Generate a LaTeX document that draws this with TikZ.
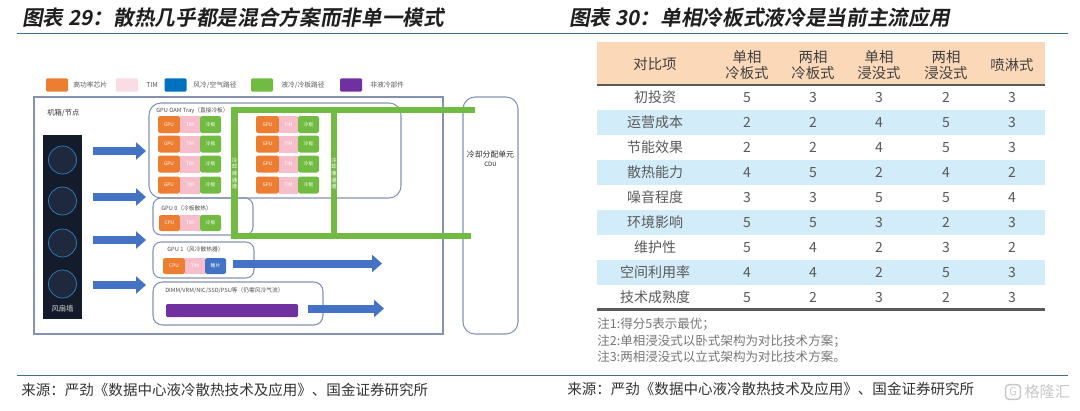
\documentclass[tikz,border=0pt]{standalone}
\usepackage{fontspec}
\setmainfont{Noto Sans CJK SC}
\newfontfamily\titlefont{Noto Sans CJK SC Bold}[FakeSlant=0.18]
\usetikzlibrary{arrows.meta}
\newcommand{\fsz}[1]{\fontsize{#1}{#1}\selectfont}

\definecolor{chiporange}{RGB}{237,125,49}
\definecolor{timpink}{RGB}{245,190,202}
\definecolor{legpink}{RGB}{250,220,228}
\definecolor{airblue}{RGB}{68,114,196}
\definecolor{legblue}{RGB}{0,112,192}
\definecolor{liqgreen}{RGB}{114,187,67}
\definecolor{partpurple}{RGB}{112,48,160}
\definecolor{boxline}{RGB}{132,146,178}
\definecolor{fanwall}{RGB}{20,27,43}
\definecolor{fanfill}{RGB}{31,41,62}
\definecolor{fanring}{RGB}{43,120,178}
\definecolor{ruleteal}{RGB}{62,110,140}
\definecolor{headpeach}{RGB}{251,216,184}
\definecolor{rowblue}{RGB}{211,236,249}
\definecolor{tabrule}{RGB}{89,89,89}
\definecolor{tabtext}{RGB}{89,89,89}
\definecolor{notegray}{RGB}{118,118,118}
\definecolor{markgray}{RGB}{200,200,200}

\begin{document}
\begin{tikzpicture}[x=0.75pt,y=0.75pt,yscale=-1,xscale=1,
  swatch/.style={rounded corners=1pt, minimum width=16.5pt, minimum height=10pt, inner sep=0pt},
  legtext/.style={anchor=west, inner sep=0pt, text=black!65, font=\fsz{5.1pt}},
  chip/.style={rounded corners=1.6pt, minimum height=12.75pt, inner sep=0pt, text=white, font=\fsz{3.6pt}},
  group/.style={draw=boxline, line width=0.8pt, rounded corners=9pt, inner sep=0pt},
  grouptitle/.style={anchor=west, inner sep=0pt, text=black!70, font=\fsz{4.3pt}},
  fan/.style={circle, fill=fanfill, draw=fanring, line width=0.6pt, minimum size=21pt, inner sep=0pt},
  airflow/.style={draw=airblue, line width=6pt, -{Triangle[length=7.5pt,width=12.75pt]}},
  pipe/.style={draw=liqgreen, line width=5pt, line join=miter},
  pipelabel/.style={align=center, inner sep=0pt, text=white, font=\fontsize{4pt}{4.95pt}\selectfont},
  headcell/.style={align=center, inner sep=0pt, text=black!75, font=\fontsize{10.8pt}{12pt}\selectfont},
  cell/.style={inner sep=0pt, text=tabtext, font=\fsz{10.5pt}},
  note/.style={anchor=west, inner sep=0pt, text=notegray, font=\fsz{9.4pt}},
  source/.style={anchor=west, inner sep=0pt, text=black!80, font=\fsz{10.9pt}},
  figtitle/.style={anchor=west, inner sep=0pt, text=black!88, font=\titlefont\fsz{15.5pt}}]
\useasboundingbox (0,0) rectangle (1080,410);

% Titles and rules
\node[figtitle] (titleL) at (22,18) {图表 29：散热几乎都是混合方案而非单一模式};
\node[figtitle] (titleR) at (569,18) {图表 30：单相冷板式液冷是当前主流应用};
\draw[ruleteal, line width=1pt] (17,33.5) -- (1068,33.5);
\draw[ruleteal, line width=1pt] (17,375.5) -- (1068,375.5);

% Legend
\node[swatch, fill=chiporange] (legchip) at (57,85) {};
\node[legtext] (legchiptxt) at (73,85) {高功率芯片};
\node[swatch, fill=legpink] (legtim) at (127,85) {};
\node[legtext] (legtimtxt) at (146,85) {TIM};
\node[swatch, fill=legblue] (legair) at (175.5,85) {};
\node[legtext] (legairtxt) at (193,85) {风冷/空气路径};
\node[swatch, fill=liqgreen] (legliq) at (262,85) {};
\node[legtext] (legliqtxt) at (281,85) {液冷/冷板路径};
\node[swatch, fill=partpurple] (legpart) at (351,85) {};
\node[legtext] (legparttxt) at (370,85) {非液冷部件};

%Shape: Rectangle (chassis) 
\node[draw=boxline, line width=0.9pt, minimum width=306.75pt, minimum height=177.75pt, inner sep=0pt] (chassis) at (238.5,215.5) {};
\node[anchor=west, inner sep=0pt, text=black!80, font=\fsz{5.5pt}] (chassistxt) at (47,113) {机箱/节点};
%Shape: Rectangle (CDU) 
\node[group, minimum width=41.25pt, minimum height=177.75pt] (cdu) at (490.5,215.5) {};
\node[inner sep=0pt, text=black!85, font=\fsz{5.9pt}] (cdutxt) at (490.5,155) {冷却分配单元};
\node[inner sep=0pt, text=black!85, font=\fsz{4.5pt}] (cdusub) at (490.5,164) {CDU};

% Fan wall
\node[fill=fanwall, minimum width=29.25pt, minimum height=138pt, inner sep=0pt] (fanwall) at (62.5,227) {};
\node[fan] (fan1) at (62.5,160) {};
\node[fan] (fan2) at (62.5,201) {};
\node[fan] (fan3) at (62.5,243) {};
\node[fan] (fan4) at (62.5,284) {};
\node[inner sep=0pt, text=white!82!fanwall, font=\fsz{5.5pt}] (fanwalltxt) at (62.5,309) {风扇墙};

%Shape: Rounded boxes 
\node[group, minimum width=189pt, minimum height=71.25pt] (tray) at (275,150.5) {};
\node[grouptitle] (traytxt) at (156,110.5) {GPU OAM Tray（直接冷板）};
\node[group, rounded corners=6pt, minimum width=75pt, minimum height=27.75pt] (gpuzero) at (203,216.5) {};
\node[grouptitle] (gpuzerotxt) at (161,208) {GPU 0（冷板散热）};
\node[group, rounded corners=6pt, minimum width=75.75pt, minimum height=27pt] (gpuone) at (203.5,260) {};
\node[grouptitle] (gpuonetxt) at (167,249) {GPU 1（风冷散热器）};
\node[group, rounded corners=7pt, minimum width=127.5pt, minimum height=32.25pt] (dimm) at (238,303.5) {};
\node[grouptitle] (dimmtxt) at (165,291) {DIMM/VRM/NIC/SSD/PSU等（仍需风冷气流）};

% Tray chips, left group
\node[chip, fill=chiporange, minimum width=16.5pt] (gpuA1) at (169,124.5) {GPU};
\node[chip, fill=timpink, rounded corners=0pt, minimum width=15pt] (timA1) at (190,124.5) {TIM};
\node[chip, fill=liqgreen, minimum width=15.75pt] (plateA1) at (210.5,124.5) {冷板};
\node[chip, fill=chiporange, minimum width=16.5pt] (gpuA2) at (169,144) {GPU};
\node[chip, fill=timpink, rounded corners=0pt, minimum width=15pt] (timA2) at (190,144) {TIM};
\node[chip, fill=liqgreen, minimum width=15.75pt] (plateA2) at (210.5,144) {冷板};
\node[chip, fill=chiporange, minimum width=16.5pt] (gpuA3) at (169,164) {GPU};
\node[chip, fill=timpink, rounded corners=0pt, minimum width=15pt] (timA3) at (190,164) {TIM};
\node[chip, fill=liqgreen, minimum width=15.75pt] (plateA3) at (210.5,164) {冷板};
\node[chip, fill=chiporange, minimum width=16.5pt] (gpuA4) at (169,185) {GPU};
\node[chip, fill=timpink, rounded corners=0pt, minimum width=15pt] (timA4) at (190,185) {TIM};
\node[chip, fill=liqgreen, minimum width=15.75pt] (plateA4) at (210.5,185) {冷板};
% Tray chips, right group
\node[chip, fill=chiporange, minimum width=17.25pt] (gpuB1) at (267.5,124.5) {GPU};
\node[chip, fill=timpink, rounded corners=0pt, minimum width=14.25pt] (timB1) at (288.5,124.5) {TIM};
\node[chip, fill=liqgreen, minimum width=15.75pt] (plateB1) at (308.5,124.5) {冷板};
\node[chip, fill=chiporange, minimum width=17.25pt] (gpuB2) at (267.5,144) {GPU};
\node[chip, fill=timpink, rounded corners=0pt, minimum width=14.25pt] (timB2) at (288.5,144) {TIM};
\node[chip, fill=liqgreen, minimum width=15.75pt] (plateB2) at (308.5,144) {冷板};
\node[chip, fill=chiporange, minimum width=17.25pt] (gpuB3) at (267.5,164) {GPU};
\node[chip, fill=timpink, rounded corners=0pt, minimum width=14.25pt] (timB3) at (288.5,164) {TIM};
\node[chip, fill=liqgreen, minimum width=15.75pt] (plateB3) at (308.5,164) {冷板};
\node[chip, fill=chiporange, minimum width=17.25pt] (gpuB4) at (267.5,185) {GPU};
\node[chip, fill=timpink, rounded corners=0pt, minimum width=14.25pt] (timB4) at (288.5,185) {TIM};
\node[chip, fill=liqgreen, minimum width=15.75pt] (plateB4) at (308.5,185) {冷板};
% GPU 0 / GPU 1 chips
\node[chip, fill=chiporange, minimum width=15.75pt, minimum height=12pt] (cpuzero) at (169.5,223) {CPU};
\node[chip, fill=timpink, rounded corners=0pt, minimum width=15pt, minimum height=12pt] (timzero) at (190,223) {TIM};
\node[chip, fill=liqgreen, minimum width=15.75pt, minimum height=12pt] (platezero) at (210.5,223) {冷板};
\node[chip, fill=chiporange, minimum width=16.5pt, minimum height=12pt] (cpuone) at (174,266) {CPU};
\node[chip, fill=timpink, rounded corners=0pt, minimum width=15pt, minimum height=12pt] (timone) at (195,266) {TIM};
\node[chip, fill=airblue, minimum width=15.75pt, minimum height=12pt] (finone) at (215.5,266) {鳍片};
%Shape: Rectangle (purple parts) 
\node[fill=partpurple, rounded corners=1pt, minimum width=99pt, minimum height=9.75pt, inner sep=0pt] (parts) at (232,310.5) {};

% Liquid loop
\draw[pipe] (475,110) -- (234.5,110) -- (234.5,236) -- (471,236);
\draw[pipe] (334,110) -- (334,236);
\node[pipelabel] (loopL) at (234.5,173.5) {冷\\却\\液\\通\\道};
\node[pipelabel] (loopM) at (334,173.5) {冷\\却\\液\\通\\道};

% Air flow
\coordinate (inA) at (93,151);  \coordinate (inAend) at (146,151);
\coordinate (inB) at (93,197);  \coordinate (inBend) at (146,197);
\coordinate (inC) at (93,240);  \coordinate (inCend) at (146,240);
\coordinate (inD) at (93,285);  \coordinate (inDend) at (146,285);
\coordinate (outone) at (233,263.5);  \coordinate (outoneend) at (382,263.5);
\coordinate (outdimm) at (308,308.5); \coordinate (outdimmend) at (384,308.5);
\draw[airflow] (inA) -- (inAend);
\draw[airflow] (inB) -- (inBend);
\draw[airflow] (inC) -- (inCend);
\draw[airflow] (inD) -- (inDend);
\draw[airflow] (outone) -- (outoneend);
\draw[airflow] (outdimm) -- (outdimmend);

% Table bands
\fill[headpeach] (597,42) rectangle (1045,85);
\fill[rowblue] (597,110) rectangle (1045,135);
\fill[rowblue] (597,160) rectangle (1045,185);
\fill[rowblue] (597,210) rectangle (1045,235);
\fill[rowblue] (597,260) rectangle (1045,285);
\draw[tabrule, line width=1.6pt] (597,85) -- (1045,85);
\draw[tabrule, line width=1.6pt] (597,309.5) -- (1045,309.5);

% Table header
\node[headcell] (h0) at (655,64) {对比项};
\node[headcell] (h1) at (747,65) {单相\\冷板式};
\node[headcell] (h2) at (813,65) {两相\\冷板式};
\node[headcell] (h3) at (879,65) {单相\\浸没式};
\node[headcell] (h4) at (946,65) {两相\\浸没式};
\node[headcell] (h5) at (1012,65) {喷淋式};

% Table rows
\node[cell] (r1c0) at (655,97.5) {初投资}; \node[cell] (r1c1) at (747,97.5) {5}; \node[cell] (r1c2) at (813,97.5) {3}; \node[cell] (r1c3) at (879,97.5) {3}; \node[cell] (r1c4) at (946,97.5) {2}; \node[cell] (r1c5) at (1012,97.5) {3};
\node[cell] (r2c0) at (655,122.5) {运营成本}; \node[cell] (r2c1) at (747,122.5) {2}; \node[cell] (r2c2) at (813,122.5) {2}; \node[cell] (r2c3) at (879,122.5) {4}; \node[cell] (r2c4) at (946,122.5) {5}; \node[cell] (r2c5) at (1012,122.5) {3};
\node[cell] (r3c0) at (655,147.5) {节能效果}; \node[cell] (r3c1) at (747,147.5) {2}; \node[cell] (r3c2) at (813,147.5) {2}; \node[cell] (r3c3) at (879,147.5) {4}; \node[cell] (r3c4) at (946,147.5) {5}; \node[cell] (r3c5) at (1012,147.5) {3};
\node[cell] (r4c0) at (655,172.5) {散热能力}; \node[cell] (r4c1) at (747,172.5) {4}; \node[cell] (r4c2) at (813,172.5) {5}; \node[cell] (r4c3) at (879,172.5) {2}; \node[cell] (r4c4) at (946,172.5) {4}; \node[cell] (r4c5) at (1012,172.5) {2};
\node[cell] (r5c0) at (655,197.5) {噪音程度}; \node[cell] (r5c1) at (747,197.5) {3}; \node[cell] (r5c2) at (813,197.5) {3}; \node[cell] (r5c3) at (879,197.5) {5}; \node[cell] (r5c4) at (946,197.5) {5}; \node[cell] (r5c5) at (1012,197.5) {4};
\node[cell] (r6c0) at (655,222.5) {环境影响}; \node[cell] (r6c1) at (747,222.5) {5}; \node[cell] (r6c2) at (813,222.5) {5}; \node[cell] (r6c3) at (879,222.5) {3}; \node[cell] (r6c4) at (946,222.5) {2}; \node[cell] (r6c5) at (1012,222.5) {3};
\node[cell] (r7c0) at (655,247.5) {维护性}; \node[cell] (r7c1) at (747,247.5) {5}; \node[cell] (r7c2) at (813,247.5) {4}; \node[cell] (r7c3) at (879,247.5) {2}; \node[cell] (r7c4) at (946,247.5) {3}; \node[cell] (r7c5) at (1012,247.5) {2};
\node[cell] (r8c0) at (655,272.5) {空间利用率}; \node[cell] (r8c1) at (747,272.5) {4}; \node[cell] (r8c2) at (813,272.5) {4}; \node[cell] (r8c3) at (879,272.5) {2}; \node[cell] (r8c4) at (946,272.5) {5}; \node[cell] (r8c5) at (1012,272.5) {3};
\node[cell] (r9c0) at (655,297.5) {技术成熟度}; \node[cell] (r9c1) at (747,297.5) {5}; \node[cell] (r9c2) at (813,297.5) {2}; \node[cell] (r9c3) at (879,297.5) {3}; \node[cell] (r9c4) at (946,297.5) {2}; \node[cell] (r9c5) at (1012,297.5) {3};

% Notes
\node[note] (note1) at (597,324) {注1:得分5表示最优；};
\node[note] (note2) at (597,341) {注2:单相浸没式以卧式架构为对比技术方案；};
\node[note] (note3) at (597,357) {注3:两相浸没式以立式架构为对比技术方案。};

% Sources
\node[source] (srcL) at (21,390) {来源：严劲《数据中心液冷散热技术及应用》、国金证券研究所};
\node[source] (srcR) at (567,389) {来源：严劲《数据中心液冷散热技术及应用》、国金证券研究所};
\node[draw=markgray, line width=1.1pt, rounded corners=2.5pt, minimum size=11pt, inner sep=0pt, text=markgray, font=\fsz{8pt}] (marklogo) at (1013,392) {G};
\node[anchor=west, inner sep=0pt, text=markgray, font=\fsz{11.5pt}] (marktext) at (1024,392) {格隆汇};

\end{tikzpicture}
\end{document}
